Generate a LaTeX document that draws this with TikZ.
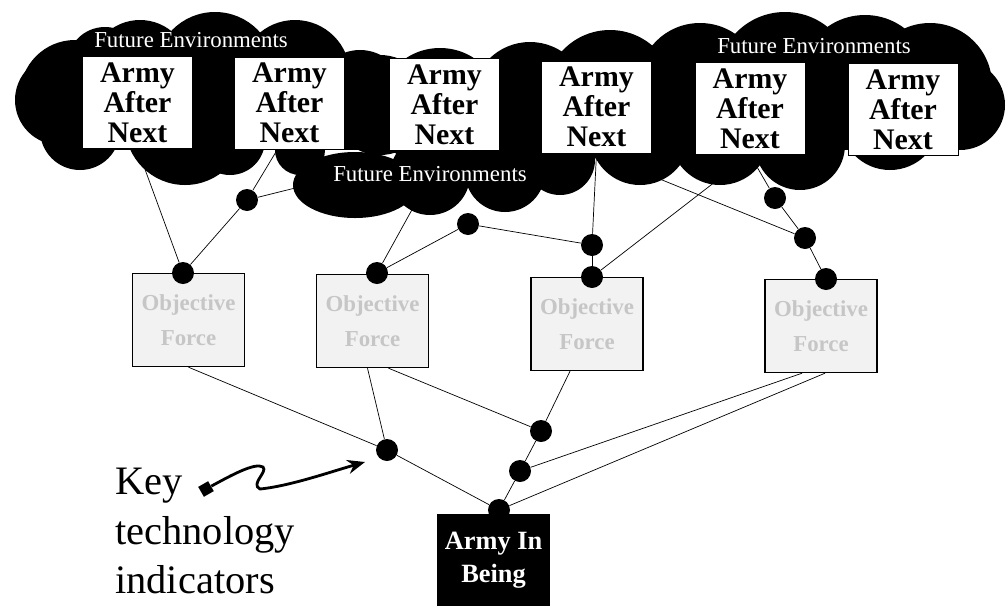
\documentclass[tikz,border=0pt]{standalone}
\usepackage{fontspec}
\setmainfont{Liberation Serif}
\usetikzlibrary{arrows.meta, positioning, calc, backgrounds}

\begin{document}
\begin{tikzpicture}[x=0.02cm, y=-0.02cm,
  aan/.style={draw, thin, fill=white, minimum width=2.2cm, minimum height=1.84cm,
    inner sep=0pt, align=center, font=\fontsize{17}{17}\selectfont\bfseries},
  objforce/.style={draw, line width=0.8pt, fill=gray!10, text=gray!45,
    minimum width=2.24cm, minimum height=1.86cm, inner sep=0pt, align=center,
    font=\fontsize{13}{20}\selectfont\bfseries},
  env/.style={text=white, inner sep=0pt, font=\fontsize{13}{13}\selectfont},
  kti/.style={circle, fill, minimum size=0.44cm, inner sep=0pt},
  link/.style={line width=1.1pt}]

\useasboundingbox (0,0) rectangle (1008,606);

% Cloud
\fill (60,60) rectangle (950,150);
\foreach \cx/\cy/\r in {60/100/45, 75/95/55, 105/65/38, 80/130/40, 140/70/50,
    215/72/60, 185/125/60, 230/140/35, 295/75/55, 360/95/45, 300/150/25,
    380/105/50, 440/110/62, 530/100/58, 610/95/65, 700/85/62, 785/80/68,
    865/80/65, 930/85/62, 960/105/45, 430/175/40, 505/172/40, 560/160/35,
    640/135/50, 720/135/50, 800/145/45, 890/120/50, 940/110/40}
  \fill (\cx,\cy) circle [radius=\r];
\fill (355,185) ellipse [x radius=62, y radius=33];

% Army After Next
\node[aan] (aan1) at (137.5,102.5) {Army\\After\\Next};
\node[aan] (aan2) at (289.5,103) {Army\\After\\Next};
\node[aan] (aan3) at (444.5,104.5) {Army\\After\\Next};
\node[aan] (aan4) at (596.5,107) {Army\\After\\Next};
\node[aan] (aan5) at (750,108.5) {Army\\After\\Next};
\node[aan] (aan6) at (903,109.5) {Army\\After\\Next};

\node[env] (envleft) at (191,40) {Future Environments};
\node[env] (envmid) at (430,174) {Future Environments};
\node[env] (envright) at (814,46) {Future Environments};

% Objective Force
\node[objforce] (of1) at (188.5,320) {Objective\\Force};
\node[objforce] (of2) at (372.5,321) {Objective\\Force};
\node[objforce] (of3) at (587,324) {Objective\\Force};
\node[objforce] (of4) at (821,326) {Objective\\Force};

% Army In Being
\node[fill, text=white, minimum width=2.26cm, minimum height=1.84cm, inner sep=0pt,
  align=center, font=\fontsize{15}{19}\selectfont\bfseries] (aib) at (493.5,560) {Army In\\Being};

% Key technology indicators
\node[kti] (d1) at (183,273) {};
\node[kti] (d2) at (247,200) {};
\node[kti] (d3) at (377,273) {};
\node[kti] (d4) at (468,224) {};
\node[kti] (d5) at (592,245) {};
\node[kti] (d6) at (592,277) {};
\node[kti] (d7) at (775,198) {};
\node[kti] (d8) at (805,238) {};
\node[kti] (d9) at (826,279) {};
\node[kti] (d10) at (387,450) {};
\node[kti] (d11) at (520,471) {};
\node[kti] (d12) at (541,431) {};
\node[kti] (d13) at (499,510) {};

% Key
\node[anchor=north west, inner sep=0pt, align=left,
  font=\fontsize{23}{28}\selectfont] (keytext) at (115,468) {Key\\technology\\indicators};
\node[fill, minimum size=6.5pt, inner sep=0pt, rotate=30] (keydot) at (206,489) {};
\coordinate (keytip) at (365,462);
\draw[line width=1.6pt, -{Stealth[length=10pt,width=8pt]}] (keydot)
  .. controls (230,476) and (255,462) .. (263,467)
  .. controls (268,472) and (250,484) .. (260,489)
  .. controls (290,486) and (330,472) .. (keytip);

% Links
\begin{scope}[on background layer, link]
\draw (aan1.south) -- (d1);
\draw (d1) -- (d2) -- ($(aan2.south)+(-12,0)$);
\draw (d2) -- (aan3.south);
\draw (d3) -- (aan3.south);
\draw (d3) -- (d4) -- (d5);
\draw (d5) -- (aan4.south);
\draw (d5) -- (d6);
\draw (d6) -- (aan5.south);
\draw (aan4.south) -- (d8);
\draw (aan5.south) -- (d7) -- (d8) -- (d9);
\draw (of1.south) -- (d10) -- (d13);
\draw ($(of2.south)+(-5,0)$) -- (d10);
\draw ($(of2.south)+(16,0)$) -- (d12);
\draw ($(of3.south)+(-17,0)$) -- (d12) -- (d11) -- (d13);
\draw ($(of4.south)+(-19,0)$) -- (d11);
\draw ($(of4.south)+(4,0)$) -- (d13);
\end{scope}
\end{tikzpicture}
\end{document}
